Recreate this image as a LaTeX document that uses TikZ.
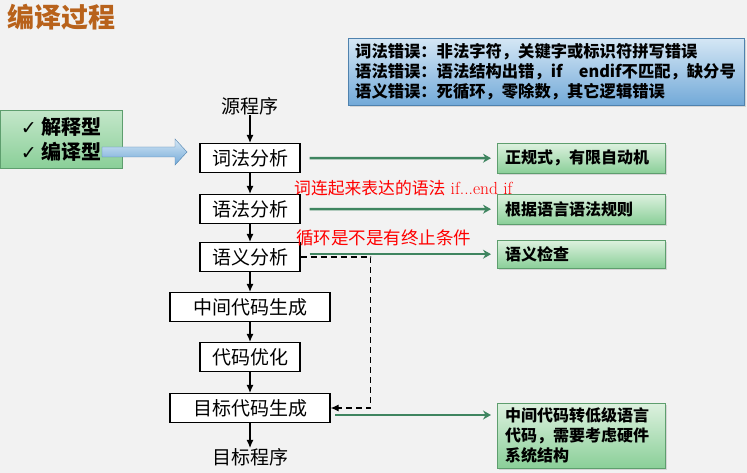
\documentclass[tikz,border=0pt]{standalone}
\usepackage{fontspec}
\newfontfamily\cjk{Noto Sans CJK SC}
\newfontfamily\dejavu{DejaVu Sans}
\usetikzlibrary{arrows.meta,shadows}

\definecolor{pagegray}{HTML}{F2F2F2}
\definecolor{titlebrown}{HTML}{B8621B}
\definecolor{greentop}{HTML}{DDF1DF}
\definecolor{greenbot}{HTML}{8ACF98}
\definecolor{greenedge}{HTML}{5E9E6E}
\definecolor{bluetop}{HTML}{D5E7F5}
\definecolor{bluebot}{HTML}{72A9D8}
\definecolor{blueedge}{HTML}{4F82AE}
\definecolor{arrowgreen}{HTML}{3F8560}

\begin{document}
\begin{tikzpicture}[x=1pt,y=-1pt,
  stagebox/.style={draw, line width=1.2pt, fill=white, minimum height=29pt, inner sep=0pt,
    font=\cjk\fontsize{19}{19}\selectfont},
  plain/.style={inner sep=0pt, font=\cjk\fontsize{19}{19}\selectfont},
  notebox/.style={draw=greenedge, top color=greentop, bottom color=greenbot,
    drop shadow={opacity=0.25, shadow xshift=2pt, shadow yshift=-2pt},
    anchor=north west, minimum width=168pt, text width=152pt, inner xsep=8pt,
    align=left, font=\cjk\bfseries\fontsize{16}{20}\selectfont},
  flow/.style={line width=1.1pt, -{Latex[length=8pt,width=7pt]}},
  greenflow/.style={arrowgreen, line width=2.5pt, -{Stealth[length=8pt,width=9pt]}},
  redtext/.style={anchor=west, inner sep=0pt, text=red, font=\fontsize{17.5}{17.5}\selectfont}]

% Background and frame
\fill[pagegray] (0,0) rectangle (747,473);
\useasboundingbox (0,0) rectangle (747,473);

% Title
\node[anchor=west, inner sep=0pt, text=titlebrown,
  font=\cjk\bfseries\fontsize{27}{27}\selectfont] (title) at (7,17) {编译过程};

% Error kinds
\node[draw=blueedge, top color=bluetop, bottom color=bluebot, anchor=north west,
  drop shadow={opacity=0.25, shadow xshift=2pt, shadow yshift=-2pt},
  minimum height=67pt, text width=382pt, inner xsep=7pt, align=left,
  font=\cjk\bfseries\fontsize{16.3}{20}\selectfont] (errors) at (348,38)
  {词法错误：非法字符，关键字或标识符拼写错误\\
   语法错误：语法结构出错，if\quad endif不匹配，缺分号\\
   语义错误：死循环，零除数，其它逻辑错误};

% Kinds of translators
\node[draw=greenedge, top color=greentop!70!greenbot, bottom color=greenbot,
  anchor=north west, minimum width=122pt, minimum height=58pt, inner xsep=6pt,
  align=left, font=\cjk\bfseries\fontsize{20}{25}\selectfont] (kind) at (0,110)
  {{\dejavu\fontsize{19}{19}\selectfont ✓}\ 解释型\\{\dejavu\fontsize{19}{19}\selectfont ✓}\ 编译型};

% Block arrow into the pipeline
\draw[blueedge, top color=bluetop, bottom color=bluebot]
  (102,147) -- (175,147) -- (175,139) -- (187,152) -- (175,165) -- (175,157) -- (102,157) -- cycle;

% Phases
\node[plain] (src) at (250,106) {源程序};
\node[stagebox, minimum width=100pt] (lex) at (250,158) {词法分析};
\node[stagebox, minimum width=100pt] (syn) at (250,209) {语法分析};
\node[stagebox, minimum width=100pt] (sem) at (250,257) {语义分析};
\node[stagebox, minimum width=160pt] (ir) at (250,307) {中间代码生成};
\node[stagebox, minimum width=100pt] (opt) at (250,357) {代码优化};
\node[stagebox, minimum width=160pt] (gen) at (250,408) {目标代码生成};
\node[plain] (dst) at (250,457) {目标程序};

\draw[flow] (src) -- (lex);
\draw[flow] (lex) -- (syn);
\draw[flow] (syn) -- (sem);
\draw[flow] (sem) -- (ir);
\draw[flow] (ir) -- (opt);
\draw[flow] (opt) -- (gen);
\draw[flow] (gen) -- (dst);

% Dashed loop back
\draw[line width=1.1pt, dash pattern=on 6pt off 4pt, -{Latex[length=8pt,width=7pt]}]
  (sem.east) -- ++(70,0) |- (gen.east);

% What each phase uses
\node[notebox, minimum height=30pt] (lexout) at (497,143) {正规式，有限自动机};
\node[notebox, minimum height=30pt] (synout) at (497,194) {根据语言语法规则};
\node[notebox, minimum height=28pt] (semout) at (497,240) {语义检查};
\node[notebox, minimum height=65pt, anchor=north west] (genout) at (497,403)
  {中间代码转低级语言\\代码，需要考虑硬件\\系统结构};

\draw[greenflow, shorten <=9pt, shorten >=6pt] (lex.east) -- (lexout.west);
\draw[greenflow, shorten <=9pt, shorten >=6pt] (syn.east) -- (synout.west);
\draw[greenflow, shorten <=9pt, shorten >=6pt] (sem.east |- semout.west) -- (semout.west);
\coordinate (genstart) at (335,415);
\draw[greenflow, shorten >=6pt] (genstart) -- (genstart -| genout.west);

% Hand notes
\node[redtext] (synnote) at (294,188) {{\cjk\fontsize{16.8}{16.8}\selectfont 词连起来表达的语法} if...end if};
\node[redtext] (semnote) at (296,238) {\cjk 循环是不是有终止条件};

\end{tikzpicture}
\end{document}
